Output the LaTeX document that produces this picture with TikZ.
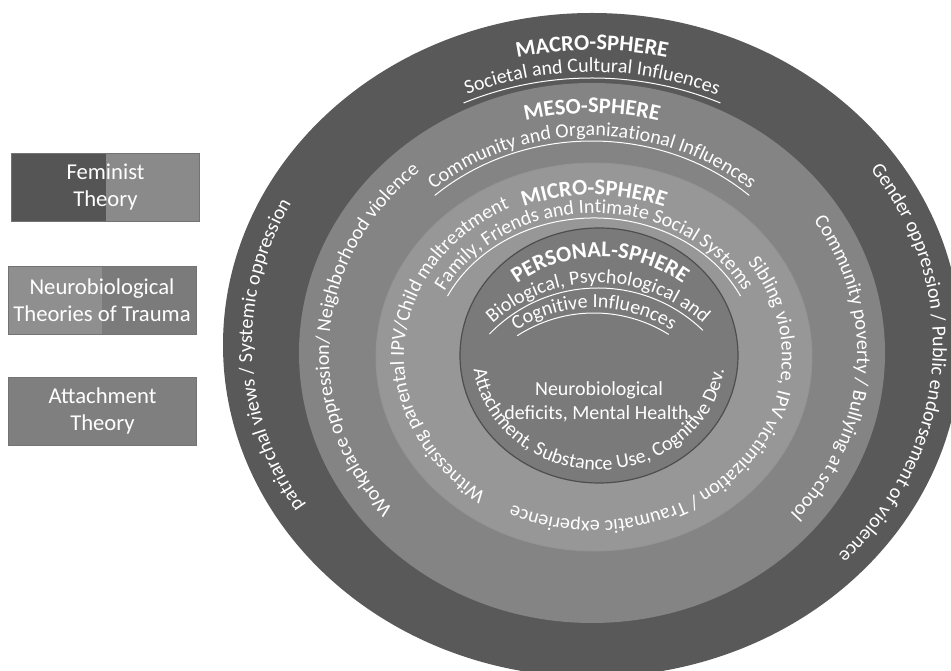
\documentclass[tikz,border=0pt]{standalone}
\usepackage{fontspec}
\setmainfont{Carlito}
\usetikzlibrary{decorations.text}
\definecolor{macrogray}{HTML}{595959}
\definecolor{mesogray}{HTML}{848484}
\definecolor{microgray}{HTML}{979797}
\definecolor{persgray}{HTML}{7A7A7A}
\definecolor{rimgray}{HTML}{4E4E4E}
\definecolor{femdark}{HTML}{555555}
\definecolor{femlight}{HTML}{8A8A8A}
\definecolor{neurolight}{HTML}{8F8F8F}
\definecolor{neurodark}{HTML}{7B7B7B}
\definecolor{attachgray}{HTML}{7F7F7F}
\newcommand{\spheretext}{\fontsize{15}{18}\selectfont\color{white}}
\newcommand{\spherehead}{\fontsize{16.8}{18}\selectfont\bfseries\color{white}}

\begin{document}
\begin{tikzpicture}[x=0.75pt,y=0.75pt,every node/.style={text=white,inner sep=0pt},
  theorybox/.style={draw=black!55,line width=0.5pt,minimum width=141pt,minimum height=51pt,align=center,font=\fontsize{17}{20.25}\selectfont},
  leftpart/.style={path picture={\fill[#1] (path picture bounding box.north west) rectangle (path picture bounding box.south);}},
  ringtext/.style={decorate,decoration={text along path,text align=center,text={|\spheretext|#1}}},
  ringhead/.style={decorate,decoration={text along path,text align=center,text={|\spherehead|#1}}},
  underline/.style={draw=white,line width=0.75pt}]
  \useasboundingbox (0,0) rectangle (951,671);
  \fill[white] (0,0) rectangle (951,671);
  \clip (0,0) rectangle (951,671);
  \coordinate (Cmac) at (592,326);
  \coordinate (Cmes) at (592,318);
  \coordinate (Cmic) at (594,314);
  \coordinate (Cper) at (599,315.5);
  \coordinate (Aper) at (600,272);
  \coordinate (Bper) at (598,232);
  \coordinate (Gper) at (594,217);
  \fill[macrogray] (Cmac) ellipse[x radius=369,y radius=332];
  \fill[mesogray] (Cmes) ellipse[x radius=293,y radius=270];
  \filldraw[fill=microgray,draw=black!42,line width=0.6pt] (Cmic) ellipse[x radius=218,y radius=194];
  \filldraw[fill=persgray,draw=rimgray,line width=0.9pt] (Cper) ellipse[x radius=139,y radius=127.5];
  \path[shift={(Cmac)},ringhead={MACRO-SPHERE}] (130:332 and 295) arc[start angle=130,end angle=50,x radius=332,y radius=295];
  \path[shift={(Cmac)},ringtext={Societal and Cultural Influences}] (135:310 and 273) arc[start angle=135,end angle=45,x radius=310,y radius=273];
  \draw[shift={(Cmac)},underline] (115:304 and 267) arc[start angle=115,end angle=65,x radius=304,y radius=267];
  \path[shift={(Cmac)},ringtext={patriarchal views / Systemic oppression}] (252:340 and 303) arc[start angle=252,end angle=112,x radius=340,y radius=303];
  \path[shift={(Cmac)},ringtext={Gender oppression / Public endorsement of violence}] (86:341 and 304) arc[start angle=86,end angle=-94,x radius=341,y radius=304];
  \path[shift={(Cmes)},ringhead={MESO-SPHERE}] (130:263 and 240) arc[start angle=130,end angle=50,x radius=263,y radius=240];
  \path[shift={(Cmes)},ringtext={Community and Organizational Influences}] (150:240 and 217) arc[start angle=150,end angle=30,x radius=240,y radius=217];
  \draw[shift={(Cmes)},underline] (132:235 and 212) arc[start angle=132,end angle=48,x radius=235,y radius=212];
  \path[shift={(Cmes)},ringtext={Workplace oppression/ Neighborhood violence}] (256:263 and 240) arc[start angle=256,end angle=96,x radius=263,y radius=240];
  \path[shift={(Cmes)},ringtext={Community poverty / Bullying at school}] (76:265 and 242) arc[start angle=76,end angle=-84,x radius=265,y radius=242];
  \path[shift={(Cmic)},ringhead={MICRO-SPHERE}] (130:186 and 162) arc[start angle=130,end angle=50,x radius=186,y radius=162];
  \path[shift={(Cmic)},ringtext={Family, Friends and Intimate Social Systems}] (170:168 and 144) arc[start angle=170,end angle=10,x radius=168,y radius=144];
  \draw[shift={(Cmic)},underline] (154:163 and 139) arc[start angle=154,end angle=26,x radius=163,y radius=139];
  \path[shift={(Cmic)},ringtext={Witnessing parental IPV/Child maltreatment}] (256:190 and 166) arc[start angle=256,end angle=96,x radius=190,y radius=166];
  \path[shift={(Cmic)},ringtext={Sibling violence, IPV victimization / Traumatic experience}] (50:188 and 164) arc[start angle=50,end angle=-130,x radius=188,y radius=164];
  \path[shift={(Aper)},ringhead={PERSONAL-SPHERE}] (150:142) arc[start angle=150,end angle=30,radius=142];
  \path[shift={(Bper)},ringtext={Biological, Psychological and}] (150:156) arc[start angle=150,end angle=30,radius=156];
  \draw[shift={(Bper)},underline] (136:151) arc[start angle=136,end angle=46,radius=151];
  \path[shift={(Gper)},ringtext={Cognitive Influences}] (150:146) arc[start angle=150,end angle=30,radius=146];
  \draw[shift={(Gper)},underline] (123:141) arc[start angle=123,end angle=58,radius=141];
  \path[shift={(Cper)},ringtext={Attachment, Substance Use, Cognitive Dev.}] (170:126 and 114.5) arc[start angle=170,end angle=370,x radius=126,y radius=114.5];
  \node[font=\fontsize{15}{18}\selectfont,align=center] (core) at (599,269.5) {Neurobiological\\deficits, Mental Health,};
  \node[theorybox,fill=femlight,leftpart=femdark] (feminist) at (105.5,483.5) {Feminist\\Theory};
  \node[theorybox,fill=neurodark,leftpart=neurolight] (neuro) at (102,371) {Neurobiological\\Theories of Trauma};
  \node[theorybox,fill=attachgray] (attachment) at (102.5,260) {Attachment\\Theory};
\end{tikzpicture}
\end{document}
